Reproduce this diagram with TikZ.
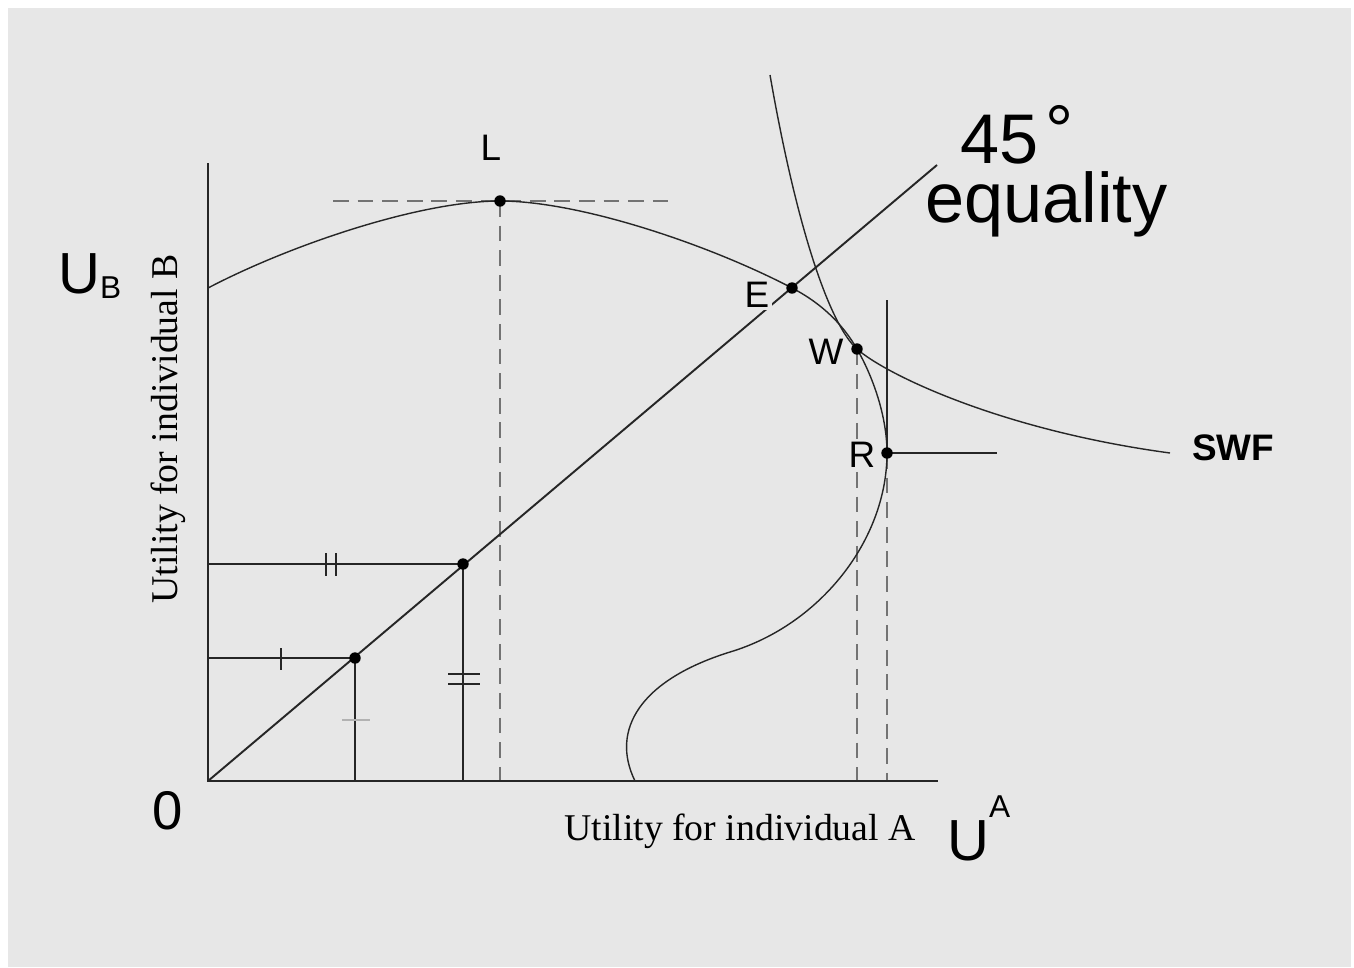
\documentclass[tikz,border=0pt]{standalone}
\usepackage{fontspec}
\setmainfont{Liberation Serif}
\setsansfont{Liberation Sans}
\usepackage{tikz}
\usetikzlibrary{positioning}
\definecolor{bgray}{RGB}{231,231,231}
\newcommand\lblfont{\sffamily\fontsize{21}{23}\selectfont}
\newcommand\eqfont{\sffamily\fontsize{40}{34}\selectfont}
\newcommand\axfont{\sffamily\fontsize{33}{35}\selectfont}
\newcommand\subfont{\sffamily\fontsize{18}{20}\selectfont}
\newcommand\capfont{\rmfamily\fontsize{21.5}{23}\selectfont}

\begin{document}
\begin{tikzpicture}[
    x=0.02cm, y=-0.02cm,
    axis/.style={line width=1.5pt, draw=black!85},
    curve/.style={line width=0.8pt, draw=black!85},
    guide/.style={line width=1.1pt, draw=black!85},
    dashguide/.style={line width=0.7pt, draw=black!55, dash pattern=on 9pt off 5pt},
    tickmark/.style={line width=1.1pt, draw=black!85},
    dot/.style={circle, fill=black, inner sep=0pt, minimum size=6.5pt},
    lbl/.style={font=\lblfont, fill=bgray, inner sep=1.5pt}
]
    \fill[bgray] (8,8) rectangle (1351,967);
    \useasboundingbox (0,0) rectangle (1354,967);

    % key points
    \coordinate (O) at (208,781);
    \coordinate (ytop) at (208,163);
    \coordinate (xend) at (938,781);
    \coordinate (diagend) at (937,165);
    \coordinate (pA) at (355,658);
    \coordinate (pB) at (463,564);
    \coordinate (pL) at (500,201);
    \coordinate (pE) at (792,288);
    \coordinate (pW) at (857,349);
    \coordinate (pR) at (887,453);
    \coordinate (fstart) at (208,288);
    \coordinate (fend) at (635,781);
    \coordinate (swftop) at (770,75);
    \coordinate (swfend) at (1170,453);
    \coordinate (Lleft) at (333,201);
    \coordinate (Lright) at (668,201);
    \coordinate (rtop) at (887,300);
    \coordinate (rright) at (997,453);

    % dashed guides
    \draw[dashguide] (Lleft) -- (Lright);
    \draw[dashguide] (pL) -- (pL |- O);
    \draw[dashguide] (pW) -- (pW |- O);
    \draw[dashguide] (pR) -- (pR |- O);

    % utility frontier
    \draw[curve] (fstart) .. controls (290,245) and (420,201) .. (pL)
        .. controls (580,201) and (710,245) .. (pE)
        .. controls (825,305) and (845,328) .. (pW)
        .. controls (872,375) and (887,415) .. (pR)
        .. controls (887,540) and (820,625) .. (730,652)
        .. controls (640,680) and (610,730) .. (fend);

    % social welfare function
    \draw[curve] (swftop) .. controls (797,230) and (830,325) .. (pW)
        .. controls (885,374) and (1000,430) .. (swfend);

    \draw[curve] (rtop) -- (pR) -- (rright);

    % 45 degree line and projections
    \draw[guide] (O) -- (diagend);
    \draw[guide] (pA -| O) -- (pA) -- (pA |- O);
    \draw[guide] (pB -| O) -- (pB) -- (pB |- O);

    % equal-length marks
    \draw[tickmark] (281,648) -- (281,670);
    \draw[line width=0.8pt, draw=black!30] (342,720) -- (370,720);
    \draw[tickmark] (326,553) -- (326,576);
    \draw[tickmark] (336,553) -- (336,576);
    \draw[tickmark] (448,674) -- (480,674);
    \draw[tickmark] (448,684) -- (480,684);

    % axes
    \draw[axis] (ytop) -- (O) -- (xend);

    % dots
    \node[dot] (dA) at (pA) {};
    \node[dot] (dB) at (pB) {};
    \node[dot] (dL) at (pL) {};
    \node[dot] (dE) at (pE) {};
    \node[dot] (dW) at (pW) {};
    \node[dot] (dR) at (pR) {};

    % labels
    \node[lbl] (labL) at (491,148) {L};
    \node[lbl] (labE) at (757,295) {E};
    \node[lbl] (labW) at (826,352) {W};
    \node[lbl] (labR) at (862,455) {R};
    \node[font=\sffamily\bfseries\fontsize{21}{23}\selectfont] (labSWF) at (1233,448) {SWF};
    \node[font=\eqfont, anchor=north west, inner sep=0pt, align=left] (equal) at (925,105)
        {\hspace*{20pt}45\kern4pt\raisebox{5pt}{°}\\equality};

    \node[font=\axfont, anchor=base west, inner sep=0pt] (UB) at (58,293)
        {U\raisebox{-3pt}{\subfont B}};
    \node[font=\axfont, anchor=base west, inner sep=0pt] (UA) at (947,860)
        {U\raisebox{24pt}{\subfont A}};
    \node[font=\sffamily\fontsize{31}{33}\selectfont] (zero) at (168,811) {0};

    \node[font=\capfont, anchor=base] (capA) at (740,840) {Utility for individual A};
    \node[font=\capfont, anchor=base, rotate=90] (capB) at (177,429) {Utility for individual B};
\end{tikzpicture}
\end{document}
